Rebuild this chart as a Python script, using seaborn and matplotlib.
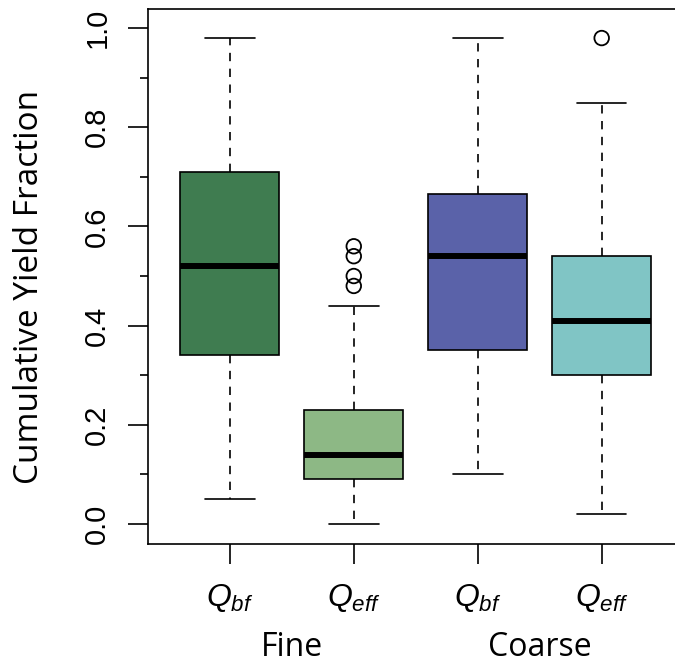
import numpy as np
import pandas as pd
import matplotlib
matplotlib.use("Agg")
import matplotlib.pyplot as plt
import matplotlib.transforms as mtransforms
import seaborn as sns

# Five-number summaries of cumulative yield fraction for each regime / discharge
groups = ["Fine Qbf", "Fine Qeff", "Coarse Qbf", "Coarse Qeff"]
whisker_low = [0.05, 0.00, 0.10, 0.02]
q1 = [0.34, 0.09, 0.35, 0.30]
median = [0.52, 0.14, 0.54, 0.41]
q3 = [0.71, 0.23, 0.665, 0.54]
whisker_high = [0.98, 0.44, 0.98, 0.85]

# Points beyond the whiskers
outlier_group = ["Fine Qeff", "Fine Qeff", "Fine Qeff", "Fine Qeff", "Coarse Qeff"]
outlier_value = [0.48, 0.50, 0.54, 0.56, 0.98]

colors = ["#3f7c50", "#8db885", "#5a62a9", "#80c5c5"]
tick_labels = [r"$Q_{bf}$", r"$Q_{eff}$", r"$Q_{bf}$", r"$Q_{eff}$"]
regimes = ["Fine", "Coarse"]
regime_members = [["Fine Qbf", "Fine Qeff"], ["Coarse Qbf", "Coarse Qeff"]]
y_ticks = [0.0, 0.2, 0.4, 0.6, 0.8, 1.0]
y_minor_ticks = [0.1, 0.3, 0.5, 0.7, 0.9]

sns.set_style("ticks")
plt.rcParams["font.family"] = ["Liberation Sans", "DejaVu Sans"]
plt.rcParams["mathtext.fontset"] = "custom"
plt.rcParams["mathtext.it"] = "Liberation Sans:italic"
plt.rcParams["mathtext.rm"] = "Liberation Sans"
plt.rcParams["axes.linewidth"] = 1.2
plt.rcParams["text.color"] = "black"
plt.rcParams["axes.labelcolor"] = "black"
plt.rcParams["xtick.color"] = "black"
plt.rcParams["ytick.color"] = "black"

# Long-form table: each group's summary values; whiskers span min..max
summary = pd.DataFrame({
    "group": np.repeat(groups, 5),
    "value": np.column_stack([whisker_low, q1, median, q3, whisker_high]).ravel(),
})

fig = plt.figure(figsize=(6.75, 6.64), dpi=100)
ax = fig.add_axes([148 / 675, 1 - 544 / 664, (683.5 - 148) / 675, (544 - 9.3) / 664])

sns.boxplot(
    data=summary, x="group", y="value", hue="group",
    order=groups, hue_order=groups, palette=colors, saturation=1,
    width=0.8, whis=(0, 100), showfliers=False,
    linecolor="black", linewidth=1.2, legend=False, ax=ax,
    medianprops=dict(color="black", linewidth=4.3, solid_capstyle="butt"),
    whiskerprops=dict(color="black", linestyle=(0, (5, 4.5))),
    capprops=dict(color="black", linestyle="-"),
)

outlier_x = [groups.index(g) for g in outlier_group]
sns.scatterplot(
    x=outlier_x, y=outlier_value, ax=ax, s=110, marker="o",
    facecolor="none", edgecolor="black", linewidth=1.3, legend=False, zorder=5,
)

ax.set_xlim(-0.66, 3.66)
ax.set_ylim(-0.0405, 1.038)

ax.set_yticks(y_ticks)
ax.set_yticklabels([f"{v:.1f}" for v in y_ticks])
ax.set_yticks(y_minor_ticks, minor=True)
ax.tick_params(axis="y", which="major", length=14.4, width=1.2, pad=12,
               labelsize=21, colors="black")
ax.tick_params(axis="y", which="minor", length=5.8, width=1.2)
for lab in ax.get_yticklabels():
    lab.set_rotation(90)
    lab.set_va("center")
    lab.set_ha("right")
    lab.set_family(["Liberation Sans Narrow", "Liberation Sans"])

ax.set_xticks(range(len(groups)))
ax.set_xticklabels(tick_labels)
ax.tick_params(axis="x", which="major", length=14.4, width=1.2, pad=13,
               labelsize=23, colors="black")

ax.set_xlabel("")
ax.set_ylabel("Cumulative Yield Fraction", fontsize=24, family="Open Sans",
              color="black")
ax.yaxis.set_label_coords(-0.2204, 0.48)
ax.yaxis.label.set_va("center")

for s in ax.spines.values():
    s.set_visible(True)
    s.set_color("black")
    s.set_linewidth(1.2)

trans = mtransforms.blended_transform_factory(ax.transData, fig.transFigure)
for name, members in zip(regimes, regime_members):
    xc = np.mean([groups.index(m) for m in members])
    ax.text(xc, 1 - 656 / 664, name, transform=trans, ha="center", va="baseline",
            fontsize=23, family="Open Sans", color="black", clip_on=False)

fig.savefig("out.png", dpi=100, facecolor="white")
